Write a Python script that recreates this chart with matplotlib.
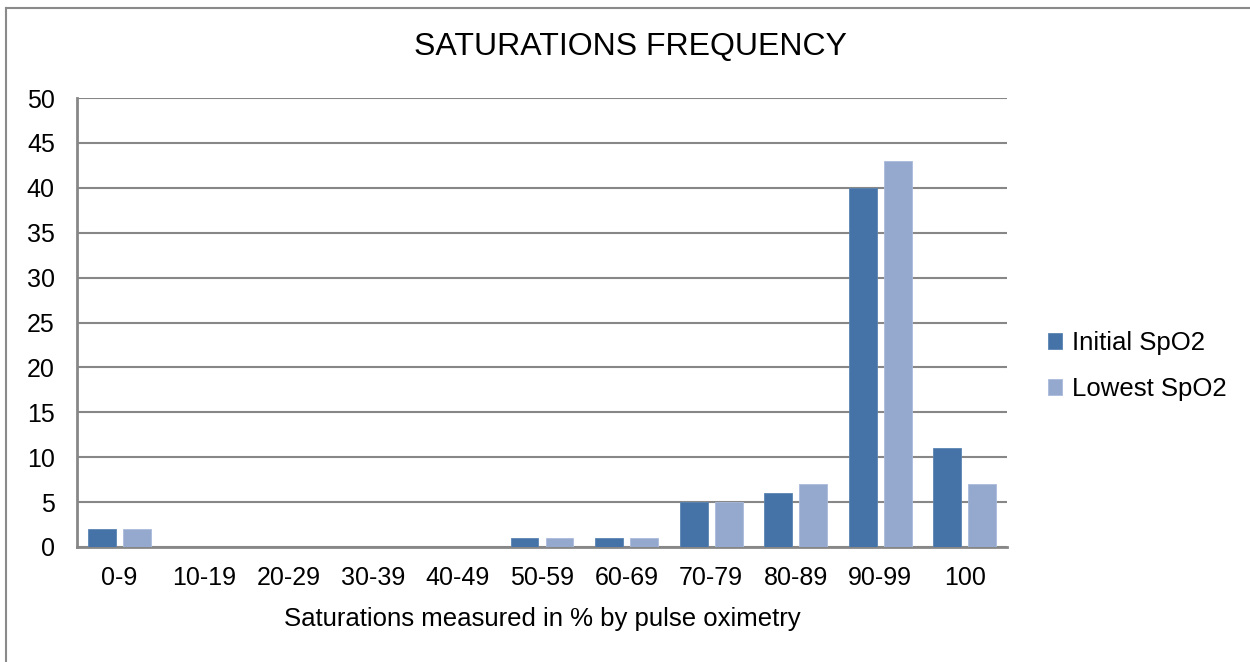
import numpy as np
import matplotlib.pyplot as plt
from matplotlib.lines import Line2D

plt.rcParams['font.family'] = ['Liberation Sans', 'DejaVu Sans']

categories = ["0-9", "10-19", "20-29", "30-39", "40-49", "50-59",
              "60-69", "70-79", "80-89", "90-99", "100"]
initial_spo2 = [2, 0, 0, 0, 0, 1, 1, 5, 6, 40, 11]
lowest_spo2 = [2, 0, 0, 0, 0, 1, 1, 5, 7, 43, 7]

dark = "#4573A7"
light = "#95A9CF"
grid = "#878787"

fig = plt.figure(figsize=(12.5, 6.62), dpi=100)
ax = fig.add_axes([77 / 1250, 1 - 547 / 662, 930 / 1250, 449 / 662])

x = np.arange(len(categories))
w = 0.33
ax.bar(x - 0.207, initial_spo2, width=w, color=dark, edgecolor="#5b84b3",
       linewidth=0.6, label="Initial SpO2", zorder=3)
ax.bar(x + 0.207, lowest_spo2, width=w, color=light, edgecolor="#a9bbdb",
       linewidth=0.6, label="Lowest SpO2", zorder=3)

ax.set_xlim(-0.5, len(categories) - 0.5)
ax.set_ylim(0, 50)
ax.set_yticks(range(0, 51, 5))
ax.set_xticks(x)
ax.set_xticklabels(categories)
ax.tick_params(axis="both", length=0, labelsize=18, colors="black")
ax.tick_params(axis="x", pad=14)
ax.tick_params(axis="y", pad=16)
ax.yaxis.grid(True, color=grid, linewidth=1.5, zorder=0)

for side in ["top", "right"]:
    ax.spines[side].set_visible(False)
for side in ["left", "bottom"]:
    ax.spines[side].set_color(grid)
    ax.spines[side].set_linewidth(2)

ax.set_xlabel("Saturations measured in % by pulse oximetry", fontsize=18.5,
              labelpad=12)
fig.text(630 / 1250, 1 - 47 / 662, "SATURATIONS FREQUENCY", fontsize=23,
         ha="center", va="center")

ax.legend(loc="center left", bbox_to_anchor=(1.019, 0.403), frameon=False,
          fontsize=18.5, handlelength=0.55, handleheight=0.55,
          handletextpad=0.4, labelspacing=0.85)

# outer chart border (top and left only, as cropped)
fig.add_artist(Line2D([6 / 1250, 1], [1 - 8 / 662, 1 - 8 / 662],
                      transform=fig.transFigure, color="#8a8a8a", linewidth=1.5))
fig.add_artist(Line2D([6 / 1250, 6 / 1250], [0, 1 - 8 / 662],
                      transform=fig.transFigure, color="#8a8a8a", linewidth=1.5))

fig.savefig("out.png", dpi=100)
